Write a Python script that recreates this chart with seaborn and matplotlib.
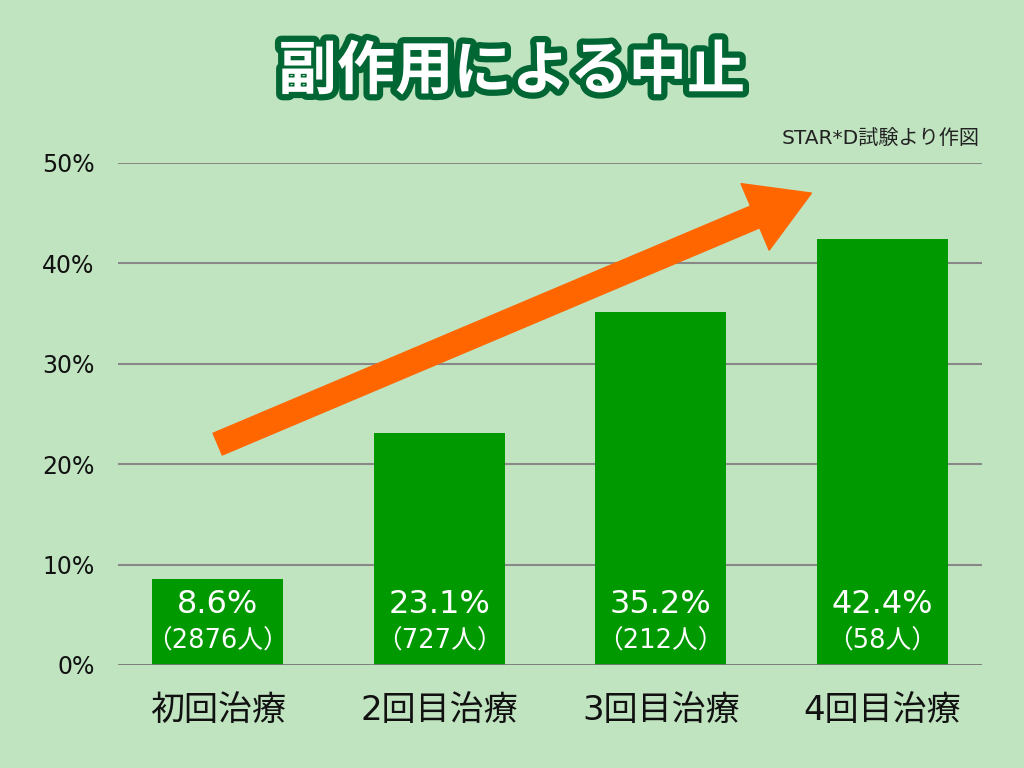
import matplotlib
matplotlib.use("Agg")
import matplotlib.pyplot as plt
import matplotlib.patheffects as pe
from matplotlib.patches import FancyArrowPatch
import seaborn as sns
import pandas as pd

categories = ["初回治療", "2回目治療", "3回目治療", "4回目治療"]
values = [8.6, 23.1, 35.2, 42.4]
counts = ["（2876人）", "（727人）", "（212人）", "（58人）"]
yticks = [0, 10, 20, 30, 40, 50]
title = "副作用による中止"
source = "STAR*D試験より作図"
arrow_start = (0.0, 22.0)
arrow_end = (2.68, 47.0)

bg = "#c0e4c0"
bar_color = "#009900"

sns.set_theme(style="white")
FAM = ['DejaVu Sans', 'Noto Sans CJK JP']
plt.rcParams['font.family'] = FAM

df = pd.DataFrame({"cat": categories, "val": values})

fig = plt.figure(figsize=(10.24, 7.68), dpi=100, facecolor=bg)
ax = fig.add_axes([118/1024, 1-665/768, (982-118)/1024, (665-163)/768])
ax.set_facecolor(bg)

for t in yticks[1:]:
    ax.axhline(t, color="#888888", lw=1.5, zorder=0)
ax.axhline(0, color="#777777", lw=2, zorder=3)

sns.barplot(data=df, x="cat", y="val", color=bar_color, saturation=1,
            width=0.59, ax=ax, zorder=2, linewidth=0, edgecolor=bar_color)

ax.set_xlim(-0.45, 3.45)
ax.set_ylim(0, 50)
ax.set_yticks(yticks)
ax.set_yticklabels([f"{t}%" for t in yticks], fontsize=17, color="#111111")
ax.tick_params(axis="y", pad=17, length=0)
ax.set_xticks(range(len(categories)))
ax.set_xticklabels(categories, fontsize=24.5, color="#111111")
ax.tick_params(axis="x", pad=21, length=0)
ax.set_xlabel("")
ax.set_ylabel("")
for s in ax.spines.values():
    s.set_visible(False)

for i, (v, c) in enumerate(zip(values, counts)):
    ax.text(i, 6.0, f"{v}%", ha="center", va="center", color="white",
            fontsize=23, zorder=4)
    ax.text(i, 2.3, c, ha="center", va="center", color="white",
            fontsize=18.5, zorder=4)

arrow = FancyArrowPatch(arrow_start, arrow_end,
                        arrowstyle="simple,head_length=44,head_width=52,tail_width=17",
                        mutation_scale=1, color="#ff6600", shrinkA=0, shrinkB=0,
                        zorder=5, clip_on=False)
ax.add_patch(arrow)

fig.text(980/1024, 1-138/768, source, ha="right", va="center",
         fontsize=14.5, color="#222222")

fig.text(0.5, 1-72/768, title, ha="center", va="center", fontsize=42,
         fontweight="bold", color="white", family=['Noto Sans CJK JP'],
         path_effects=[pe.withStroke(linewidth=9, foreground="#006633")])

fig.savefig("out.png", dpi=100, facecolor=bg)
